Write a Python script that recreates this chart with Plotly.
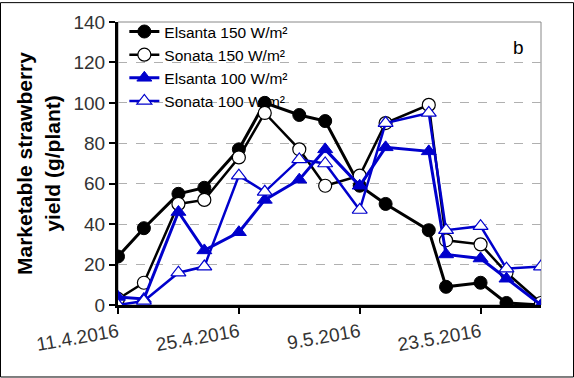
import plotly.graph_objects as go

dates = ["2016-04-11", "2016-04-14", "2016-04-18", "2016-04-21", "2016-04-25",
         "2016-04-28", "2016-05-02", "2016-05-05", "2016-05-09", "2016-05-12",
         "2016-05-17", "2016-05-19", "2016-05-23", "2016-05-26", "2016-05-30"]
elsanta_150 = [24, 38, 55, 58, 77, 100, 94, 91, 59, 50, 37, 9, 11, 1, 0]
sonata_150 = [3, 11, 50, 52, 73, 95, 77, 59, 64, 90, 99, 32, 30, 16, 1]
elsanta_100 = [4, 3, 46, 27, 36, 52, 62, 77, 59, 78, 76, 25, 23, 13, 0]
sonata_100 = [0, 2, 16, 19, 64, 56, 72, 70, 47, 90, 95, 37, 39, 18, 19]
tick_vals = ["2016-04-11", "2016-04-25", "2016-05-09", "2016-05-23"]
tick_text = ["11.4.2016", "25.4.2016", "9.5.2016", "23.5.2016"]

BLUE = "#0000CC"
FONT = "Arial, Liberation Sans, sans-serif"

fig = go.Figure()
fig.add_trace(go.Scatter(x=dates, y=elsanta_150, name="Elsanta 150 W/m²", mode="lines+markers",
                         line=dict(color="black", width=3),
                         marker=dict(symbol="circle", size=13, color="black",
                                     line=dict(color="black", width=1))))
fig.add_trace(go.Scatter(x=dates, y=sonata_150, name="Sonata 150 W/m²", mode="lines+markers",
                         line=dict(color="black", width=2.5),
                         marker=dict(symbol="circle", size=13, color="white",
                                     line=dict(color="black", width=1.2))))
fig.add_trace(go.Scatter(x=dates, y=elsanta_100, name="Elsanta 100 W/m²", mode="lines+markers",
                         line=dict(color=BLUE, width=3),
                         marker=dict(symbol="triangle-up", size=13, color=BLUE,
                                     line=dict(color=BLUE, width=1))))
fig.add_trace(go.Scatter(x=dates, y=sonata_100, name="Sonata 100 W/m²", mode="lines+markers",
                         line=dict(color=BLUE, width=2.5),
                         marker=dict(symbol="triangle-up", size=13, color="white",
                                     line=dict(color=BLUE, width=1.2))))

W, H = 574, 378
L, R, T, B = 118, 33, 20, 73
pw, ph = W - L - R, H - T - B

fig.update_layout(
    width=W, height=H,
    margin=dict(l=L, r=R, t=T, b=B),
    paper_bgcolor="white", plot_bgcolor="white",
    font=dict(family=FONT, color="black"),
    showlegend=True,
    legend=dict(x=0.015, y=1.025, xanchor="left", yanchor="top",
                bgcolor="rgba(0,0,0,0)", font=dict(size=15.5, family=FONT, color="black"),
                itemwidth=30, tracegroupgap=0),
    xaxis=dict(type="date", range=["2016-04-11", "2016-05-30"],
               tickvals=tick_vals, ticktext=tick_text, tickangle=-10,
               tickfont=dict(size=19, family=FONT, color="#333333"),
               showgrid=False, zeroline=False,
               showline=True, linecolor="black", linewidth=3,
               ticks="outside", ticklen=6, tickwidth=2, tickcolor="black",
               layer="below traces"),
    yaxis=dict(range=[0, 140], tickvals=[0, 20, 40, 60, 80, 100, 120, 140],
               tickfont=dict(size=19, family=FONT, color="#333333"),
               showgrid=True, gridcolor="#B0B0B0", griddash="dash", gridwidth=1,
               zeroline=False,
               showline=True, linecolor="black", linewidth=3,
               ticks="outside", ticklen=6, tickwidth=2, tickcolor="black",
               layer="below traces",
               title=dict(text="<b>Marketable strawberry<br>yield (g/plant)</b>",
                          font=dict(size=21, family=FONT, color="black"), standoff=8)),
    shapes=[
        dict(type="rect", xref="paper", yref="paper", x0=0, x1=1, y0=0, y1=1,
             line=dict(color="#888888", width=1), layer="below"),
        dict(type="rect", xref="paper", yref="paper",
             x0=(-L + 0.5) / pw, x1=1 + (R - 0.5) / pw,
             y0=(-B + 0.5) / ph, y1=1 + (T - 0.5) / ph,
             line=dict(color="black", width=1), layer="below"),
    ],
    annotations=[dict(text="b", xref="paper", yref="paper",
                      x=(526 - L) / pw, y=1 - (46 - T) / ph, showarrow=False,
                      yanchor="middle",
                      font=dict(size=19, family=FONT, color="black"))],
)

fig.write_html("out.html", config={"displayModeBar": False},
               post_script="document.body.style.margin='0';document.body.style.padding='0';")
